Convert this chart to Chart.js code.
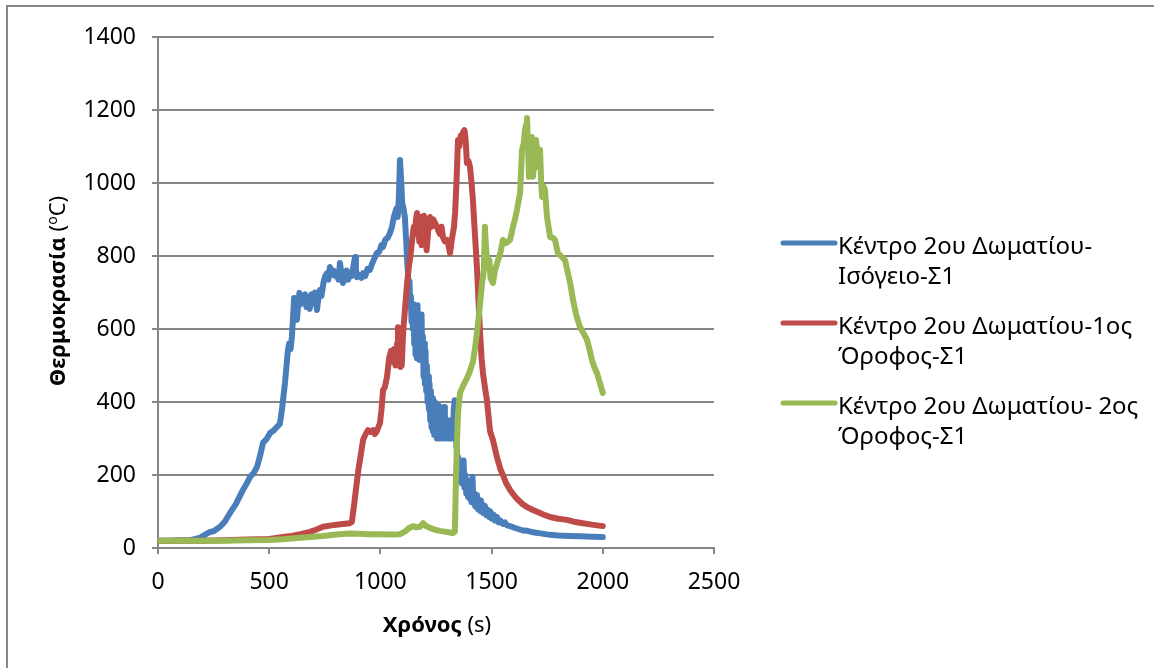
<!DOCTYPE html>
<html>
<head>
<meta charset="utf-8">
<script src="https://cdn.jsdelivr.net/npm/chart.js@4.4.1/dist/chart.umd.min.js"></script>
<style>
  html, body { margin: 0; padding: 0; background: #fff; }
  #wrap { position: relative; width: 1154px; height: 668px; }
</style>
</head>
<body>
<div id="wrap"><canvas id="c" width="1154" height="668"></canvas></div>
<script>
// Tick values of both axes
const xTicks = [0, 500, 1000, 1500, 2000, 2500];
const yTicks = [0, 200, 400, 600, 800, 1000, 1200, 1400];

// Legend text, one array of lines per series
const seriesLabels = [
  ['Κέντρο 2ου Δωματίου-', 'Ισόγειο-Σ1'],
  ['Κέντρο 2ου Δωματίου-1ος', 'Όροφος-Σ1'],
  ['Κέντρο 2ου Δωματίου- 2ος', 'Όροφος-Σ1']
];

// Ground floor, room centre: time (s) and temperature (°C)
const groundTime = [0,50,100,150,190,210,234,250,279,300,324,350,382,400,414,430,445,460,472,490,504,520,535,548,557,565,571,578,584,590,596,602,608,612,616,620,625,630,636,642,648,655,662,668,675,682,690,698,705,715,722,728,735,745,752,760,766,773,780,790,798,805,812,818,825,832,840,848,855,863,870,878,886,890,895,905,915,922,932,942,953,962,970,984,995,1005,1012,1022,1033,1043,1052,1060,1066,1072,1078,1083,1088,1093,1098,1104,1110,1116,1120,1124,1128,1131,1134,1137,1140,1143,1146,1149,1152,1155,1158,1161,1164,1167,1170,1173,1176,1179,1182,1185,1188,1191,1194,1197,1200,1203,1206,1209,1212,1215,1218,1221,1224,1227,1230,1233,1236,1239,1242,1245,1248,1251,1254,1257,1260,1263,1266,1269,1272,1275,1278,1281,1284,1287,1290,1293,1296,1299,1302,1305,1308,1311,1314,1317,1320,1323,1326,1330,1334,1338,1342,1346,1350,1354,1358,1362,1366,1370,1374,1378,1382,1386,1390,1394,1398,1402,1406,1410,1414,1418,1422,1426,1430,1434,1438,1442,1448,1452,1458,1464,1470,1476,1482,1488,1494,1500,1508,1515,1524,1532,1540,1550,1560,1570,1583,1600,1620,1640,1660,1680,1700,1720,1740,1763,1800,1850,1900,1950,2000];
const groundTemp = [20,20,21,22,28,36,44,46,58,72,96,120,159,178,195,205,222,255,288,300,315,322,332,340,378,420,452,500,542,560,545,578,640,685,680,640,625,665,699,668,690,672,695,660,688,655,695,670,700,652,690,707,690,730,745,753,735,770,748,760,745,753,735,781,752,726,745,760,735,753,745,770,797,760,742,748,740,753,745,765,762,778,789,808,812,830,825,845,850,863,880,905,918,930,907,960,1063,1010,945,930,907,840,790,753,700,730,660,690,620,665,600,668,560,640,530,610,520,665,560,630,515,600,545,640,520,580,470,560,450,540,430,500,400,470,380,450,350,430,330,410,320,390,310,400,320,380,300,370,310,390,300,360,310,350,300,370,305,386,310,350,300,345,305,340,300,350,310,340,300,330,310,380,405,340,280,250,249,200,230,180,210,175,240,165,200,150,185,140,175,135,160,125,195,130,150,115,145,110,135,105,130,100,120,95,115,90,105,85,100,80,92,75,85,70,75,66,70,62,60,56,52,48,47,44,42,40,38,36,34,33,32,31,30];

// 1st floor, room centre
const firstTime = [0,100,200,300,400,500,562,600,640,683,710,742,780,820,863,872,880,890,900,908,915,922,932,944,955,967,975,984,998,1005,1012,1020,1030,1040,1048,1056,1062,1068,1075,1079,1084,1090,1096,1102,1110,1120,1128,1135,1142,1150,1155,1160,1165,1170,1175,1180,1185,1190,1196,1202,1208,1215,1223,1230,1238,1246,1254,1260,1268,1275,1282,1290,1300,1306,1313,1320,1326,1331,1336,1342,1349,1355,1361,1367,1372,1378,1383,1389,1396,1403,1410,1416,1425,1434,1441,1448,1455,1461,1470,1479,1493,1506,1524,1540,1551,1565,1583,1600,1614,1640,1660,1686,1710,1740,1763,1800,1839,1870,1911,1950,2000];
const firstTemp = [20,20,20,21,23,25,30,33,38,44,50,58,62,65,68,72,110,160,210,241,268,296,310,323,318,323,312,320,342,380,433,440,470,523,540,510,545,500,560,605,530,496,500,589,650,726,770,800,840,880,860,900,918,880,840,907,830,870,910,850,816,870,907,880,900,890,880,870,860,880,850,840,844,830,808,840,863,880,920,1000,1118,1100,1130,1126,1140,1145,1120,1055,1060,1044,1000,953,860,770,680,589,520,480,440,405,320,296,249,215,200,178,159,145,135,120,112,104,98,90,85,80,77,72,68,64,60];

// 2nd floor, room centre
const secondTime = [0,100,200,300,400,500,560,600,639,700,742,800,863,900,950,1000,1050,1088,1110,1130,1147,1160,1178,1192,1205,1223,1245,1268,1300,1326,1335,1340,1345,1349,1358,1372,1389,1400,1416,1425,1434,1445,1457,1465,1470,1475,1484,1490,1495,1506,1515,1529,1540,1551,1565,1583,1596,1605,1614,1628,1637,1645,1650,1655,1659,1664,1668,1674,1681,1686,1693,1700,1705,1709,1714,1718,1723,1727,1734,1740,1749,1756,1763,1775,1785,1798,1812,1830,1843,1855,1866,1880,1897,1912,1929,1940,1951,1962,1974,1988,2000];
const secondTemp = [20,20,20,20,21,22,24,26,28,31,33,37,40,39,38,38,37,38,45,55,60,57,58,68,60,55,50,47,44,41,45,200,300,370,425,445,465,480,510,545,589,650,726,760,880,820,770,789,740,726,760,789,810,844,835,844,880,900,926,973,1091,1110,1145,1160,1178,1100,1017,1080,1126,1017,1060,1118,1080,1044,1070,1091,1000,962,990,981,907,880,852,850,844,808,800,789,753,720,680,640,606,590,570,545,515,495,479,450,425];

const toPoints = (ts, vs) => ts.map((t, i) => ({ x: t, y: vs[i] }));

const FONT = "'Noto Sans', 'DejaVu Sans', sans-serif";
const GRID = '#868686';

// Frame, axis titles with mixed weights, and the wrapped legend
const decor = {
  id: 'decor',
  beforeDraw(chart) {
    const ctx = chart.ctx;
    ctx.save();
    ctx.fillStyle = '#fff';
    ctx.fillRect(0, 0, chart.width, chart.height);
    ctx.strokeStyle = GRID;
    ctx.lineWidth = 2;
    ctx.beginPath();
    ctx.moveTo(7, chart.height);
    ctx.lineTo(7, 6);
    ctx.lineTo(chart.width, 6);
    ctx.stroke();
    ctx.restore();
  },
  afterDraw(chart) {
    const ctx = chart.ctx;
    const drawParts = (parts, cx, baseY) => {
      let total = 0;
      parts.forEach(p => { ctx.font = p.font; p.w = ctx.measureText(p.text).width; total += p.w; });
      let x = cx - total / 2;
      parts.forEach(p => {
        ctx.font = p.font;
        ctx.fillText(p.text, x, baseY + (p.dy || 0));
        x += p.w;
      });
    };
    ctx.save();
    ctx.fillStyle = '#000';
    ctx.textBaseline = 'alphabetic';
    ctx.textAlign = 'left';
    // x title
    drawParts([
      { text: 'Χρόνος ', font: 'bold 22px ' + FONT },
      { text: '(s)', font: '22px ' + FONT }
    ], 437, 632);
    // y title
    ctx.save();
    ctx.translate(65, 291);
    ctx.rotate(-Math.PI / 2);
    drawParts([
      { text: 'Θερμοκρασία ', font: 'bold 22px ' + FONT },
      { text: '(', font: '22px ' + FONT },
      { text: 'o', font: '14px ' + FONT, dy: -8 },
      { text: 'C)', font: '22px ' + FONT }
    ], 0, 0);
    ctx.restore();
    // legend
    chart.data.datasets.forEach((ds, i) => {
      const my = 243 + 80 * i;
      ctx.strokeStyle = ds.borderColor;
      ctx.lineWidth = 5;
      ctx.lineCap = 'round';
      ctx.beginPath();
      ctx.moveTo(783, my);
      ctx.lineTo(835, my);
      ctx.stroke();
      ctx.fillStyle = '#000';
      ctx.font = '24px ' + FONT;
      seriesLabels[i].forEach((line, j) => ctx.fillText(line, 838, my + 11 + 30 * j));
    });
    ctx.restore();
  }
};

const mkSet = (i, ts, vs, color, order) => ({
  label: seriesLabels[i].join(''),
  data: toPoints(ts, vs),
  borderColor: color,
  backgroundColor: color,
  borderWidth: 6,
  pointRadius: 0,
  tension: 0,
  borderJoinStyle: 'round',
  borderCapStyle: 'round',
  order: order
});

new Chart(document.getElementById('c'), {
  type: 'line',
  data: {
    datasets: [
      mkSet(0, groundTime, groundTemp, '#4A7EBB', 2),
      mkSet(1, firstTime, firstTemp, '#BE4B48', 1),
      mkSet(2, secondTime, secondTemp, '#98B954', 0)
    ]
  },
  plugins: [decor],
  options: {
    responsive: false,
    animation: false,
    layout: { padding: { left: 0, top: 37, right: 440, bottom: 0 } },
    plugins: { legend: { display: false }, tooltip: { enabled: false } },
    scales: {
      x: {
        type: 'linear',
        min: xTicks[0],
        max: xTicks[xTicks.length - 1],
        afterBuildTicks: s => { s.ticks = xTicks.map(v => ({ value: v })); },
        afterFit: s => { s.height = 120; },
        ticks: { color: '#000', font: { family: FONT, size: 23 }, padding: 15, maxRotation: 0, callback: v => String(v) },
        grid: { drawOnChartArea: false, drawTicks: true, tickLength: 6, color: GRID, lineWidth: 2 },
        border: { display: true, color: GRID, width: 2 }
      },
      y: {
        min: yTicks[0],
        max: yTicks[yTicks.length - 1],
        afterBuildTicks: s => { s.ticks = yTicks.map(v => ({ value: v })); },
        afterFit: s => { s.width = 158; },
        ticks: { color: '#000', font: { family: FONT, size: 23 }, padding: 16, callback: v => String(v) },
        grid: { color: GRID, lineWidth: 2, tickLength: 6, drawTicks: true },
        border: { display: true, color: GRID, width: 2 }
      }
    }
  }
});
</script>
</body>
</html>
